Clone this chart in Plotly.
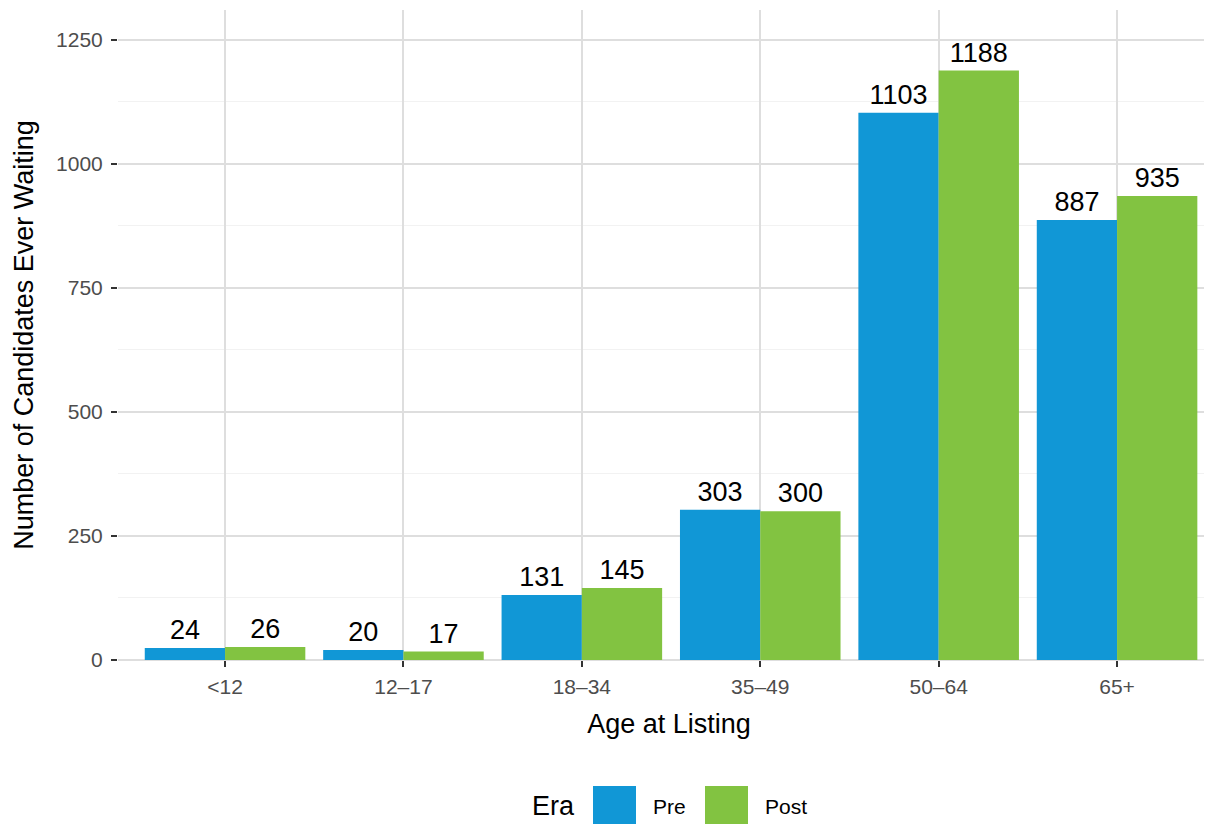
import plotly.graph_objects as go

AGE_GROUPS = ['<12', '12–17', '18–34', '35–49', '50–64', '65+']
PRE = [24, 20, 131, 303, 1103, 887]
POST = [26, 17, 145, 300, 1188, 935]
ERAS = ['Pre', 'Post']
COLORS = {'Pre': '#1197d6', 'Post': '#82c341'}

FONT = 'Liberation Sans, Arial, sans-serif'

# figure size and panel margins (the page body adds an 8px offset)
W, H = 1212, 824
OFF = 8
L, R, T, B = 110, 0, 2, 172


def px_x(p):
    # page pixel -> paper x
    return (p - OFF - L) / (W - L - R)


def px_y(p):
    # page pixel -> paper y
    return (H - B - (p - OFF)) / (H - T - B)


fig = go.Figure()
for era, vals in zip(ERAS, [PRE, POST]):
    fig.add_trace(go.Bar(x=AGE_GROUPS, y=vals, name=era,
                         marker=dict(color=COLORS[era], line=dict(width=0)),
                         text=[str(v) for v in vals],
                         textposition='outside',
                         textfont=dict(family=FONT, size=27, color='#000000'),
                         cliponaxis=False,
                         showlegend=False))

# legend drawn like ggplot's bottom legend: big square keys
shapes = []
annotations = [dict(text='Era', x=px_x(530), y=px_y(806), xref='paper', yref='paper',
                    xanchor='left', yanchor='middle', showarrow=False,
                    font=dict(family=FONT, size=27, color='#000000'))]
key_left = [593, 705]
for era, kx in zip(ERAS, key_left):
    shapes.append(dict(type='rect', xref='paper', yref='paper',
                       x0=px_x(kx), x1=px_x(kx + 43), y0=px_y(786), y1=px_y(829),
                       fillcolor=COLORS[era], line=dict(width=0)))
    annotations.append(dict(text=era, x=px_x(kx + 58), y=px_y(806), xref='paper', yref='paper',
                            xanchor='left', yanchor='middle', showarrow=False,
                            font=dict(family=FONT, size=21, color='#000000')))

fig.update_layout(
    width=W, height=H,
    margin=dict(l=L, r=R, t=T, b=B),
    paper_bgcolor='white', plot_bgcolor='white',
    barmode='group', bargap=0.1, bargroupgap=0,
    font=dict(family=FONT),
    shapes=shapes, annotations=annotations,
    xaxis=dict(range=[-0.6, 5.577], showgrid=True, gridcolor='#dedede', gridwidth=2,
               ticks='outside', ticklen=6, tickwidth=2, tickcolor='#333333',
               tickfont=dict(size=21, color='#4d4d4d'), ticklabelstandoff=2,
               title=dict(text='Age at Listing', font=dict(size=27, color='#000000'), standoff=16),
               showline=False, zeroline=False, automargin=False),
    yaxis=dict(range=[0, 1310], tickmode='array', tickvals=[0, 250, 500, 750, 1000, 1250],
               showgrid=True, gridcolor='#dedede', gridwidth=2,
               minor=dict(dtick=125, tick0=0, showgrid=True, gridcolor='#f2f2f2', gridwidth=1),
               zeroline=True, zerolinecolor='#dedede', zerolinewidth=2,
               ticks='outside', ticklen=6, tickwidth=2, tickcolor='#333333',
               tickfont=dict(size=21, color='#4d4d4d'), ticklabelstandoff=4,
               title=dict(text='Number of Candidates Ever Waiting',
                          font=dict(size=27, color='#000000'), standoff=14),
               showline=False, automargin=False),
)

fig.write_html('out.html')
